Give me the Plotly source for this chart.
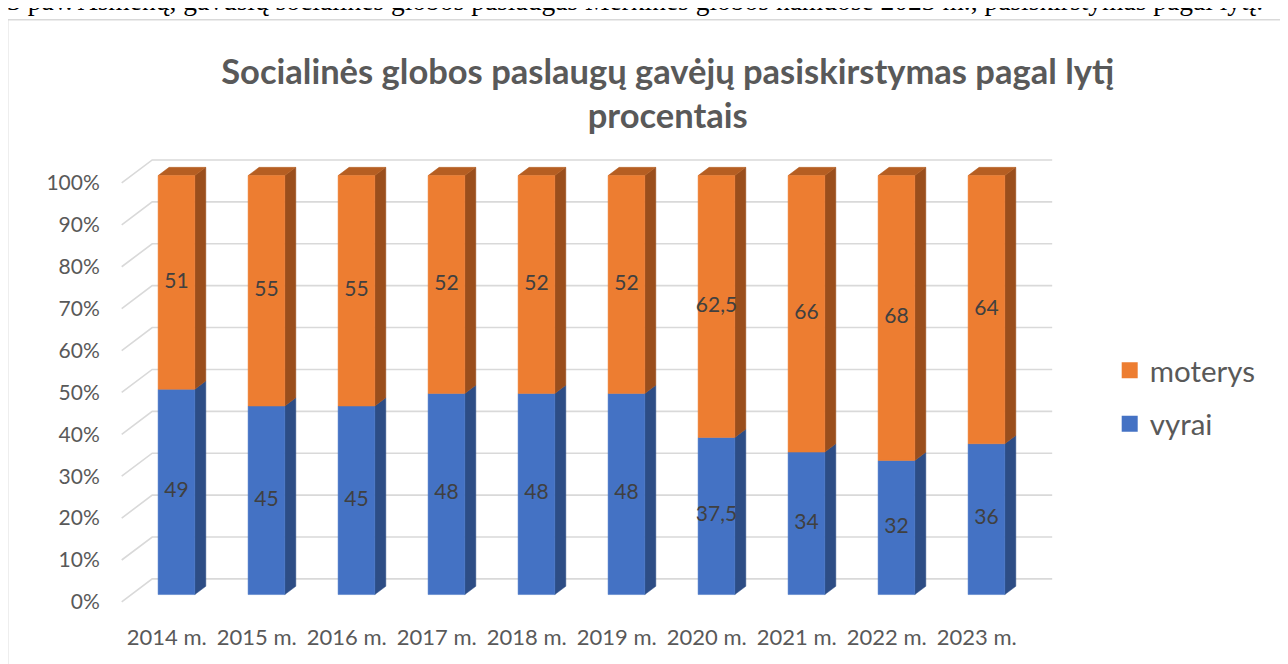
import plotly.graph_objects as go

# Data
years = ["2014 m.", "2015 m.", "2016 m.", "2017 m.", "2018 m.",
         "2019 m.", "2020 m.", "2021 m.", "2022 m.", "2023 m."]
vyrai = [49, 45, 45, 48, 48, 48, 37.5, 34, 32, 36]
moterys = [51, 55, 55, 52, 52, 52, 62.5, 66, 68, 64]
y_ticks = [0, 10, 20, 30, 40, 50, 60, 70, 80, 90, 100]

BLUE, BLUE_SIDE = "#4472C4", "#2D4D85"
ORANGE, ORANGE_SIDE, ORANGE_TOP = "#ED7D31", "#9A4E1C", "#B55E22"
GRID = "#D9D9D9"
FONT = "Lato"

# page geometry (screen pixels; the page body adds an 8px offset)
FIG_W, FIG_H = 1288, 664
OFF = 8
CAT_PX = 90.0          # px per category
PCT_PX = 4.19          # px per percent
X0_PX = 167.0          # screen x of category 0 on the front plane
Y0_PX = 602.3          # screen y of 0% on the front plane
XR = [-0.53, 9.87]
YR = [-0.5, 106.2]
L = X0_PX - OFF + XR[0] * CAT_PX
R = FIG_W - (X0_PX - OFF + XR[1] * CAT_PX)
B = FIG_H - (Y0_PX - OFF - YR[0] * PCT_PX)
T = Y0_PX - OFF - YR[1] * PCT_PX
PW, PH = FIG_W - L - R, FIG_H - T - B


def px_x(p):
    return (p - OFF - L) / PW


def px_y(p):
    return 1 - (p - OFF - T) / PH


# oblique "3D" projection in axis units
DX = 30.5 / CAT_PX      # full depth offset, x
DY = 23.0 / PCT_PX      # full depth offset, y
BAR_W = 0.408
D0, D1 = 0.32, 0.68     # bar front / back depth fractions


def fmt(v):
    return f"{v:g}".replace(".", ",")


def add_poly(xs, ys, pts):
    for px_, py_ in pts:
        xs.append(px_)
        ys.append(py_)
    xs.append(pts[0][0])
    ys.append(pts[0][1])
    xs.append(None)
    ys.append(None)


faces = {k: ([], []) for k in ["fb", "sb", "fo", "so", "to"]}
lbl_x, lbl_y, lbl_t = [], [], []
ox, oy = D0 * DX, D0 * DY
ddx, ddy = (D1 - D0) * DX, (D1 - D0) * DY
for i, (v, m) in enumerate(zip(vyrai, moterys)):
    xl = i + ox - BAR_W / 2
    xr = xl + BAR_W
    b0, b1, b2 = oy, v + oy, v + m + oy
    add_poly(*faces["fb"], [(xl, b0), (xr, b0), (xr, b1), (xl, b1)])
    add_poly(*faces["sb"], [(xr, b0), (xr + ddx, b0 + ddy), (xr + ddx, b1 + ddy), (xr, b1)])
    add_poly(*faces["fo"], [(xl, b1), (xr, b1), (xr, b2), (xl, b2)])
    add_poly(*faces["so"], [(xr, b1), (xr + ddx, b1 + ddy), (xr + ddx, b2 + ddy), (xr, b2)])
    add_poly(*faces["to"], [(xl, b2), (xr, b2), (xr + ddx, b2 + ddy), (xl + ddx, b2 + ddy)])
    lbl_x += [i + ox, i + ox]
    lbl_y += [oy + v / 2, oy + v + m / 2]
    lbl_t += [fmt(v), fmt(m)]

# gridlines on back wall + left side wall
gx, gy = [], []
for t in y_ticks:
    gx += [XR[0] + 0.03, XR[0] + 0.03 + DX, 9.5 + DX, None]
    gy += [t, t + DY, t + DY, None]

fig = go.Figure()
fig.add_trace(go.Scatter(x=gx, y=gy, mode="lines", line=dict(color=GRID, width=1.6),
                         hoverinfo="skip", showlegend=False))
for key, col in [("sb", BLUE_SIDE), ("so", ORANGE_SIDE), ("to", ORANGE_TOP),
                 ("fb", BLUE), ("fo", ORANGE)]:
    xs, ys = faces[key]
    fig.add_trace(go.Scatter(x=xs, y=ys, mode="lines", fill="toself", fillcolor=col,
                             line=dict(color=col, width=0.5), hoverinfo="skip",
                             showlegend=False))
fig.add_trace(go.Scatter(x=lbl_x, y=lbl_y, mode="text", text=lbl_t,
                         textfont=dict(family=FONT, size=21, color="#404040"),
                         hoverinfo="skip", showlegend=False, cliponaxis=False))

# legend entries
for name, col in [("moterys", ORANGE), ("vyrai", BLUE)]:
    fig.add_trace(go.Scatter(x=[None], y=[None], mode="markers", name=name,
                             marker=dict(symbol="square", size=16, color=col),
                             legendgroup=name))

fig.update_layout(
    width=FIG_W, height=FIG_H,
    margin=dict(l=L, r=R, t=T, b=B, autoexpand=False),
    paper_bgcolor="white", plot_bgcolor="white",
    font=dict(family=FONT, color="#595959"),
    title=dict(text="Socialinės globos paslaugų gavėjų pasiskirstymas pagal lytį<br>procentais",
               font=dict(family=FONT, size=34.5, color="#595959", weight="bold"),
               x=px_x(668), xanchor="center", xref="paper",
               y=1 - 75.5 / FIG_H, yanchor="middle"),
    xaxis=dict(range=XR, tickmode="array", tickvals=list(range(len(years))), ticktext=years,
               showgrid=False, zeroline=False, showline=False,
               ticks="outside", ticklen=14, tickcolor="rgba(0,0,0,0)",
               tickfont=dict(family=FONT, size=22, color="#595959"), fixedrange=True),
    yaxis=dict(range=YR, tickmode="array", tickvals=y_ticks,
               ticktext=[f"{t}%" for t in y_ticks],
               showgrid=False, zeroline=False, showline=False,
               ticks="outside", ticklen=14, tickcolor="rgba(0,0,0,0)",
               tickfont=dict(family=FONT, size=21, color="#595959"), fixedrange=True),
    legend=dict(x=px_x(1110), xanchor="left", y=px_y(345), yanchor="top",
                font=dict(family=FONT, size=29.5, color="#595959"),
                traceorder="grouped", tracegroupgap=12, bgcolor="rgba(0,0,0,0)"),
    shapes=[dict(type="rect", xref="paper", yref="paper",
                 x0=px_x(8), x1=px_x(1281.5), y0=px_y(700), y1=px_y(20),
                 line=dict(color=GRID, width=1.5), layer="below")],
    annotations=[dict(text="3 pav. Asmenų, gavusių socialinės globos paslaugas Merkinės globos "
                           "namuose 2023 m., pasiskirstymas pagal lytį.",
                      xref="paper", yref="paper", x=px_x(635), y=px_y(1),
                      xanchor="center", yanchor="middle", showarrow=False,
                      font=dict(family="Liberation Serif", size=27.5, color="black"))],
)

fig.write_html("out.html")
